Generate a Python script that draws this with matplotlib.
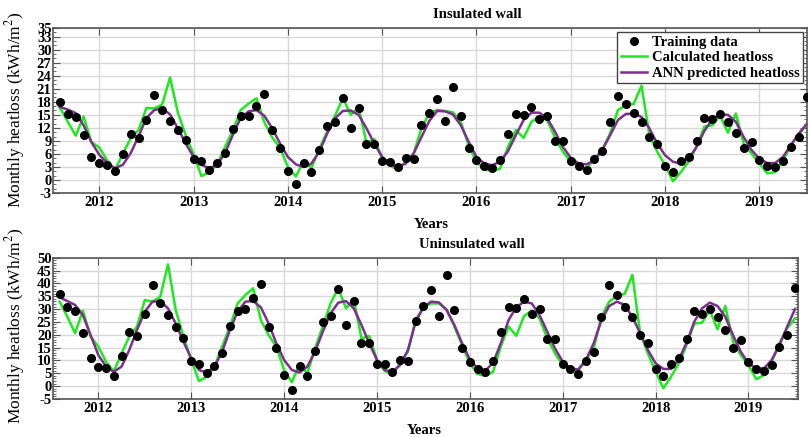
import numpy as np
import pandas as pd
import matplotlib
matplotlib.use("Agg")
import matplotlib.pyplot as plt
from matplotlib.ticker import MultipleLocator

plt.rcParams['font.family'] = ['Liberation Serif', 'DejaVu Serif']
plt.rcParams['mathtext.fontset'] = 'stix'

# monthly values, Aug 2011 .. Jul 2019
dates = pd.date_range("2011-08-01", periods=96, freq="MS")
years = dates.year + (dates.month - 1) / 12.0

# insulated wall
ins_train = [17.9, 15.2, 14.6, 10.3, 5.3,
             3.9, 3.5, 2.0, 5.9, 10.5, 9.7, 13.8, 19.6, 16.2, 13.6, 11.5, 9.2,
             4.9, 4.3, 2.4, 4.0, 6.3, 11.7, 14.8, 14.8, 17.1, 19.7, 11.4, 7.4,
             2.0, -0.9, 3.9, 1.8, 6.9, 12.4, 13.4, 18.8, 11.9, 16.6, 8.4, 8.4,
             4.3, 4.2, 3.0, 5.1, 4.8, 12.6, 15.5, 18.6, 13.6, 21.5, 14.8, 7.4,
             4.5, 3.2, 2.8, 4.7, 10.5, 15.3, 15.0, 16.9, 14.0, 14.8, 9.0, 9.0,
             4.3, 3.2, 2.2, 4.8, 6.6, 13.4, 19.4, 17.5, 15.5, 13.4, 9.8, 8.3,
             3.2, 1.8, 4.3, 5.3, 9.0, 14.3, 14.0, 15.1, 13.4, 10.9, 7.4, 8.8,
             4.7, 3.2, 3.0, 4.3, 7.6, 9.9, 19.0]
ins_calc = [16.6, 13.4, 10.2, 14.6, 8.7,
            7.5, 4.5, 2.3, 6.1, 9.6, 11.5, 16.6, 16.5, 17.4, 23.6, 15.5, 10.3,
            5.9, 0.9, 1.8, 3.6, 7.6, 11.4, 16.1, 17.6, 18.8, 13.3, 9.8, 7.4,
            3.0, 0.8, 4.3, 2.8, 7.2, 11.1, 14.8, 18.9, 15.0, 16.8, 8.6, 9.4,
            5.0, 3.3, 2.4, 4.2, 6.1, 11.9, 15.4, 16.1, 15.9, 15.6, 13.4, 8.0,
            4.2, 2.5, 2.0, 2.6, 7.6, 11.5, 9.7, 13.4, 14.6, 13.8, 9.7, 6.5,
            4.2, 3.4, 2.6, 4.9, 6.9, 10.7, 16.1, 17.2, 17.5, 21.7, 10.4, 6.5,
            3.4, -0.3, 1.8, 4.2, 7.6, 12.3, 12.6, 14.8, 10.9, 15.3, 8.4, 6.1,
            3.8, 1.5, 1.8, 4.5, 8.0, 10.3, 12.8]
ins_ann = [16.8, 16.2, 15.4, 12.6, 8.7,
           5.8, 3.9, 2.7, 3.5, 6.2, 10.1, 14.3, 16.1, 16.5, 15.1, 11.9, 8.4,
           5.3, 3.5, 2.7, 3.5, 6.2, 10.4, 14.3, 15.8, 16.1, 14.8, 11.9, 8.4,
           5.3, 3.6, 3.0, 3.8, 6.5, 10.7, 14.2, 15.9, 16.0, 15.0, 11.9, 8.4,
           5.3, 3.6, 3.0, 3.8, 6.1, 9.9, 13.6, 15.9, 15.8, 15.1, 12.6, 8.8,
           5.3, 3.8, 3.4, 4.2, 6.6, 10.3, 13.8, 15.5, 15.5, 14.2, 11.1, 7.6,
           5.1, 3.8, 3.6, 4.5, 6.9, 10.3, 13.8, 15.2, 15.3, 14.5, 11.9, 8.4,
           5.7, 4.2, 3.8, 4.9, 7.6, 11.3, 14.0, 15.1, 15.0, 13.4, 9.9, 6.9,
           4.9, 3.9, 3.9, 5.3, 8.0, 10.7, 12.8]

# uninsulated wall
unins_train = [35.9, 30.7, 29.4, 20.6, 10.8,
               7.6, 7.2, 4.0, 11.7, 21.2, 19.6, 28.0, 39.4, 32.5, 27.6, 23.2, 18.6,
               9.9, 8.6, 5.0, 7.8, 12.8, 23.4, 29.4, 29.9, 34.3, 39.6, 23.2, 15.0,
               4.2, -1.5, 7.8, 4.0, 13.8, 24.8, 27.3, 37.7, 23.8, 33.3, 16.7, 16.9,
               8.5, 8.5, 5.6, 10.2, 9.8, 25.5, 31.3, 37.4, 27.3, 43.3, 29.6, 15.0,
               9.5, 6.7, 5.6, 9.8, 21.2, 30.7, 30.3, 33.9, 28.1, 29.9, 18.4, 18.4,
               8.6, 6.7, 4.6, 9.8, 13.4, 27.0, 39.4, 35.5, 30.9, 27.0, 19.9, 16.9,
               6.7, 4.0, 8.6, 11.1, 18.4, 29.2, 28.1, 30.0, 27.0, 21.9, 15.0, 18.0,
               9.5, 6.5, 5.9, 8.2, 15.4, 19.9, 38.1]
unins_calc = [32.9, 27.0, 20.6, 29.4, 19.3,
              15.4, 9.5, 5.6, 12.8, 19.3, 23.2, 33.5, 32.9, 34.8, 47.4, 29.6, 19.3,
              10.2, 2.0, 3.7, 7.6, 15.4, 23.2, 32.2, 35.5, 38.1, 25.7, 19.9, 15.4,
              6.3, 1.5, 8.6, 5.0, 14.7, 23.2, 32.2, 38.1, 30.3, 33.8, 18.6, 19.5,
              10.2, 5.9, 4.7, 8.9, 13.4, 25.7, 30.7, 32.2, 32.2, 29.9, 23.2, 16.0,
              8.9, 4.7, 4.0, 5.6, 15.4, 23.2, 19.6, 27.3, 29.4, 26.4, 18.6, 12.8,
              8.2, 6.3, 6.0, 10.2, 14.7, 27.0, 32.9, 35.1, 35.9, 43.3, 20.6, 12.8,
              5.6, -0.8, 3.7, 8.9, 16.0, 24.4, 24.7, 29.6, 22.1, 31.2, 17.3, 12.1,
              8.2, 2.7, 4.3, 9.5, 16.7, 22.5, 26.4]
unins_ann = [34.6, 33.1, 31.6, 27.7, 19.9,
             12.1, 7.6, 5.6, 7.6, 14.1, 21.9, 29.0, 32.9, 33.1, 30.3, 24.4, 17.3,
             10.8, 6.3, 5.3, 7.6, 13.4, 21.9, 29.0, 32.9, 33.1, 30.7, 24.4, 16.7,
             10.2, 6.3, 5.3, 7.6, 13.4, 21.2, 28.3, 32.5, 33.1, 30.3, 23.8, 16.7,
             10.2, 6.3, 5.6, 8.2, 14.1, 25.1, 30.7, 32.9, 32.6, 29.6, 23.8, 16.7,
             10.4, 6.9, 6.0, 9.1, 16.7, 25.7, 30.7, 32.9, 32.2, 27.7, 21.2, 14.7,
             9.5, 6.9, 6.5, 10.2, 16.7, 25.7, 31.2, 32.9, 31.6, 27.0, 20.6, 14.1,
             8.9, 6.7, 6.7, 10.4, 16.9, 25.1, 30.3, 32.5, 31.2, 27.0, 19.9, 13.4,
             8.9, 6.9, 6.9, 10.2, 16.0, 23.2, 29.9]

year_ticks = list(range(2012, 2020))
ins_yticks = [-3, 0, 3, 6, 9, 12, 15, 18, 21, 24, 27, 30, 33, 35]
unins_yticks = list(range(-5, 51, 5))

GREEN = '#1ee81e'
PURPLE = '#7e2f8e'

W, H = 809, 437
fig = plt.figure(figsize=(W / 100, H / 100), dpi=100)
ax1 = fig.add_axes([53 / W, 1 - 193 / H, 754 / W, 165 / H])
ax2 = fig.add_axes([53 / W, 1 - 399 / H, 745 / W, 141.3 / H])


def style(ax, yticks, ylim, xlim):
    ax.set_xlim(*xlim)
    ax.set_ylim(*ylim)
    ax.set_xticks(year_ticks)
    ax.set_xticklabels([str(y) for y in year_ticks], fontweight='bold', fontsize=10.5)
    ax.set_yticks(yticks)
    ax.set_yticklabels([str(v) for v in yticks], fontweight='bold', fontsize=10.5)
    ax.yaxis.set_minor_locator(MultipleLocator(1))
    ax.tick_params(which='both', direction='in', top=True, right=True,
                   color='#555555', pad=2)
    ax.tick_params(which='major', length=5)
    ax.tick_params(which='minor', length=2.5)
    ax.tick_params(axis='y', pad=1)
    ax.grid(True, which='major', color='#d8d8d8', linewidth=1)
    ax.set_axisbelow(True)
    for s in ax.spines.values():
        s.set_color('#555555')
        s.set_linewidth(1.2)


def draw(ax, train, calc, ann):
    ax.plot(years, train, 'o', color='black', markersize=5.5, zorder=4,
            label='Training data')
    ax.plot(years, calc, '-', color=GREEN, linewidth=1.8, zorder=3,
            label='Calculated heatloss')
    ax.plot(years, ann, '-', color=PURPLE, linewidth=1.8, zorder=3,
            label='ANN predicted heatloss')


draw(ax1, ins_train, ins_calc, ins_ann)
draw(ax2, unins_train, unins_calc, unins_ann)
style(ax1, ins_yticks, (-3, 35), (2011.509, 2019.505))
style(ax2, unins_yticks, (-5, 50), (2011.512, 2019.533))

leg = ax1.legend(loc='upper right', bbox_to_anchor=(803 / W, 1 - 32 / H),
                 bbox_transform=fig.transFigure, borderaxespad=0,
                 prop={'weight': 'bold', 'size': 10.5}, frameon=True,
                 fancybox=False, edgecolor='#444444', framealpha=1,
                 handlelength=1.8, handletextpad=0.3, labelspacing=0.15,
                 borderpad=0.25)
leg.get_frame().set_linewidth(1.0)

fig.text(477 / W, 1 - 15 / H, 'Insulated wall', ha='center', va='center',
         fontweight='bold', fontsize=10.5)
fig.text(472 / W, 1 - 244 / H, 'Uninsulated wall', ha='center', va='center',
         fontweight='bold', fontsize=10.5)
fig.text(431 / W, 1 - 225 / H, 'Years', ha='center', va='center',
         fontweight='bold', fontsize=10.5)
fig.text(424 / W, 1 - 431 / H, 'Years', ha='center', va='center',
         fontweight='bold', fontsize=10.5)

ylab = 'Monthly heatloss (kWh/m$^{2}$)'
fig.text(15 / W, 1 - 110 / H, ylab, rotation=90, ha='center', va='center',
         fontsize=12.5)
fig.text(15 / W, 1 - 326 / H, ylab, rotation=90, ha='center', va='center',
         fontsize=12.5)

fig.savefig('out.png', dpi=100)
